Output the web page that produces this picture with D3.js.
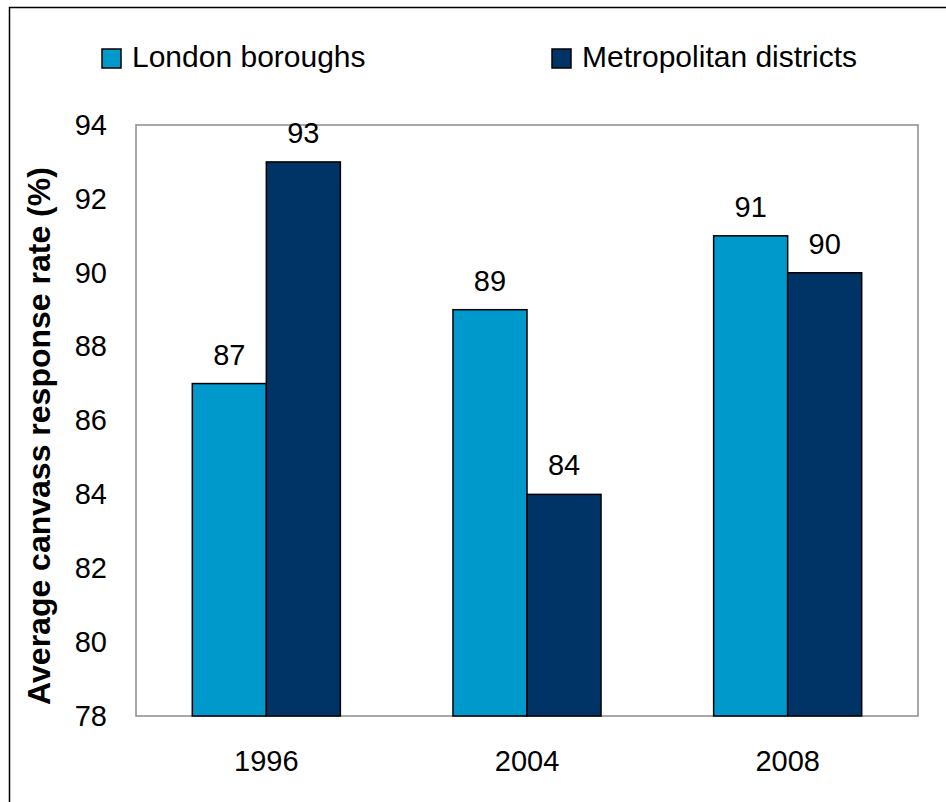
<!DOCTYPE html>
<meta charset="utf-8">
<style>
body { margin: 0; background: #fff; }
svg { display: block; }
text { font-family: "Liberation Sans", Arial, sans-serif; fill: #000; }
.frame { fill: none; stroke: #000; stroke-width: 1.5; }
.plot { fill: #fff; stroke: #8c8c8c; stroke-width: 1.5; }
.bar { stroke: #000; stroke-width: 1.5; }
</style>
<body>
<script src="https://cdn.jsdelivr.net/npm/d3@7"></script>
<script>

// data
var years = ["1996", "2004", "2008"];
var seriesNames = ["London boroughs", "Metropolitan districts"];
var london = [87, 89, 91];
var metro = [93, 84, 90];
var yTicks = [78, 80, 82, 84, 86, 88, 90, 92, 94];
var colors = ["#0099cc", "#003366"];

var W = 946, H = 802;
var plot = {left: 136, top: 125, right: 918, bottom: 716};

var svg = d3.select("body").append("svg")
    .attr("width", W)
    .attr("height", H);

// outer chart frame (runs off the right and bottom edges)
svg.append("rect")
    .attr("class", "frame")
    .attr("x", 9.5).attr("y", 7.5)
    .attr("width", W).attr("height", H);

var x0 = d3.scaleBand()
    .domain(years)
    .range([plot.left, plot.right])
    .paddingInner(0.432)
    .paddingOuter(0.216);

var x1 = d3.scaleBand()
    .domain(seriesNames)
    .range([0, x0.bandwidth()]);

var y = d3.scaleLinear()
    .domain([78, 94])
    .range([plot.bottom, plot.top]);

// plot area
svg.append("rect")
    .attr("class", "plot")
    .attr("x", plot.left).attr("y", plot.top)
    .attr("width", plot.right - plot.left)
    .attr("height", plot.bottom - plot.top);

var rows = years.map(function(yr, i) {
  return {year: yr, values: [london[i], metro[i]]};
});

var groups = svg.selectAll(".grp")
    .data(rows)
  .enter().append("g")
    .attr("class", "grp")
    .attr("transform", function(d) { return "translate(" + x0(d.year) + ",0)"; });

groups.selectAll("rect")
    .data(function(d) { return d.values.map(function(v, j) { return {name: seriesNames[j], value: v, j: j}; }); })
  .enter().append("rect")
    .attr("class", "bar")
    .attr("x", function(d) { return x1(d.name); })
    .attr("width", x1.bandwidth())
    .attr("y", function(d) { return y(d.value); })
    .attr("height", function(d) { return y(78) - y(d.value); })
    .style("fill", function(d) { return colors[d.j]; });

// value labels
groups.selectAll(".lbl")
    .data(function(d) { return d.values.map(function(v, j) { return {name: seriesNames[j], value: v}; }); })
  .enter().append("text")
    .attr("class", "lbl")
    .attr("x", function(d) { return x1(d.name) + x1.bandwidth() / 2; })
    .attr("y", function(d) { return y(d.value) - 19; })
    .attr("text-anchor", "middle")
    .style("font-size", "29px")
    .text(function(d) { return d.value; });

// y axis labels
var yAxis = d3.axisLeft(y).tickValues(yTicks).tickSize(0).tickPadding(29);
var gy = svg.append("g")
    .attr("transform", "translate(" + plot.left + ",0)")
    .call(yAxis);
gy.select(".domain").remove();
gy.selectAll("text")
    .style("font-size", "29px")
    .style("font-family", "'Liberation Sans', Arial, sans-serif")
    .attr("fill", "#000");

// x axis labels
var xAxis = d3.axisBottom(x0).tickSize(0).tickPadding(34);
var gx = svg.append("g")
    .attr("transform", "translate(0," + plot.bottom + ")")
    .call(xAxis);
gx.select(".domain").remove();
gx.selectAll("text")
    .style("font-size", "29px")
    .style("font-family", "'Liberation Sans', Arial, sans-serif")
    .attr("fill", "#000");

// y title
svg.append("text")
    .attr("transform", "translate(50,436) rotate(-90)")
    .attr("text-anchor", "middle")
    .style("font-size", "32px")
    .style("font-weight", "bold")
    .text("Average canvass response rate (%)");

// legend
var legX = [102, 552];
var leg = svg.selectAll(".leg")
    .data(seriesNames)
  .enter().append("g")
    .attr("class", "leg")
    .attr("transform", function(d, i) { return "translate(" + legX[i] + ",49)"; });

leg.append("rect")
    .attr("width", 19).attr("height", 19)
    .attr("stroke", "#000").attr("stroke-width", 1.5)
    .style("fill", function(d, i) { return colors[i]; });

leg.append("text")
    .attr("x", 30).attr("y", 18)
    .style("font-size", "30px")
    .text(function(d) { return d; });

</script>
</body>
